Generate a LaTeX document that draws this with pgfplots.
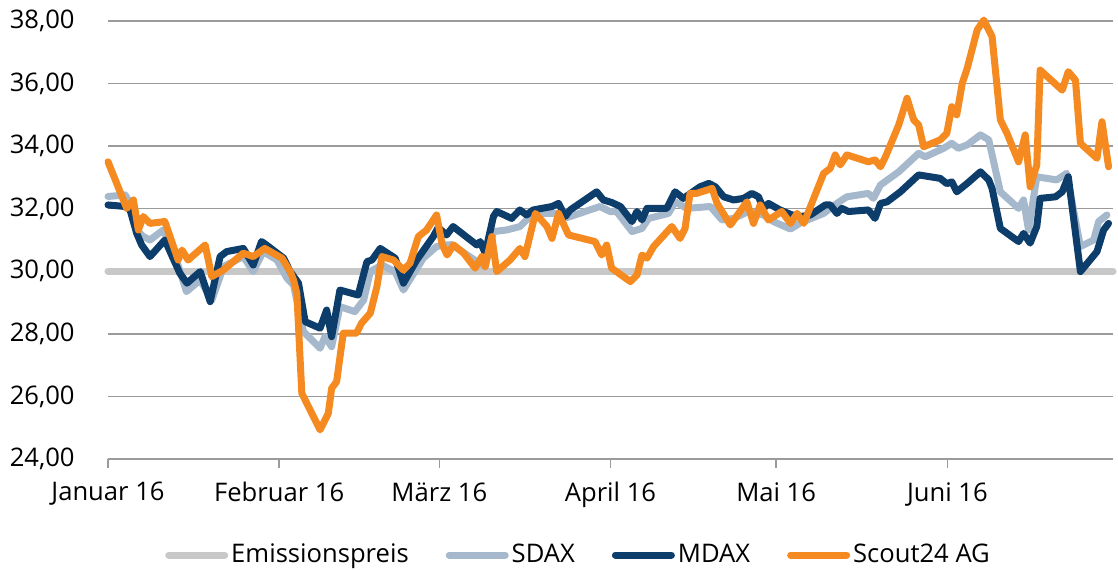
\documentclass[border=0pt]{standalone}
\usepackage{pgfplots}
\pgfplotsset{compat=1.18}
\usepackage{fontspec}
\setmainfont{Open Sans}
\definecolor{emis}{RGB}{200,200,200}
\definecolor{sdax}{RGB}{166,184,203}
\definecolor{mdax}{RGB}{13,61,107}
\definecolor{scout}{RGB}{245,138,32}
\definecolor{gridc}{RGB}{155,155,155}
\begin{document}
\fontsize{12.8}{15}\selectfont
\begin{tikzpicture}
\begin{axis}[
  name=ax, at={(0,0)}, anchor=south west,
  scale only axis, width=502.5pt, height=219pt,
  xmin=0, xmax=182, ymin=24, ymax=38,
  clip=false,
  axis x line*=bottom, axis y line*=left,
  y axis line style={draw=none},
  x axis line style={gridc, line width=0.75pt},
  ytick={24,26,...,38},
  ymajorgrids, grid style={gridc, line width=0.75pt},
  ytick style={draw=none},
  xtick={0,31,60,91,121,152},
  xticklabels={Januar 16,Februar 16,März 16,April 16,Mai 16,Juni 16},
  xtick align=outside, major tick length=4.5pt,
  xtick style={gridc, line width=0.75pt},
  xticklabel style={anchor=north, inner sep=0pt, yshift=-7pt},
  yticklabel style={anchor=east, inner sep=0pt, xshift=-16.5pt},
  /pgf/number format/.cd, fixed, fixed zerofill, precision=2, use comma, assume math mode=true,
  /pgfplots/.cd,
  every axis plot/.append style={line width=3.5pt, line join=round, line cap=round},
  legend columns=4,
  legend style={at={(rel axis cs:0.4687,-0.2192)}, anchor=center, draw=none, fill=none,
    inner sep=0pt, nodes={inner xsep=1.5pt, inner ysep=0pt},
    /tikz/every even column/.append style={column sep=17pt}},
  legend image code/.code={\draw[#1, line width=3.5pt, line cap=round] (0pt,0pt) -- (28pt,0pt);},
]
\addplot[emis] coordinates {(0,30) (182,30)};
\addlegendentry{Emissionspreis}
\addplot[sdax] coordinates {
(0,32.39) (3.1,32.44) (4.0,32.17) (5.2,31.32) (6.4,31.11) (7.6,31.00) (10.0,31.32) (12.4,30.36)
(14.2,29.35) (16.7,29.72) (18.8,29.08) (20.3,29.83) (20.9,30.15) (24.5,30.47) (26.3,29.99)
(28.1,30.63) (30.6,30.36) (32.4,29.78) (33.6,29.56) (35.4,28.07) (38.4,27.54) (39.3,27.91)
(40.5,27.59) (42.0,28.87) (44.7,28.71) (46.3,29.08) (47.5,29.99) (49.6,30.20) (52.0,29.99)
(53.5,29.40) (55.0,29.83) (57.1,30.42) (59.5,30.79) (61.0,30.84) (62.3,30.85) (66.8,30.31)
(68.3,30.15) (69.8,31.27) (72.2,31.32) (74.6,31.43) (75.8,31.64) (77.6,31.85) (81.3,31.85)
(82.5,31.69) (83.7,31.75) (89.1,32.07) (90.9,31.91) (92.1,31.91) (94.9,31.27) (96.7,31.37)
(97.9,31.69) (101.5,31.85) (102.7,32.22) (104.8,32.01) (109.1,32.07) (111.2,31.64) (113.3,31.69)
(116.0,31.91) (118.7,31.80) (120.5,31.59) (123.6,31.35) (125.4,31.55) (129.6,31.85) (132.0,32.17)
(133.8,32.38) (137.7,32.49) (138.6,32.33) (139.9,32.76) (143.2,33.18) (146.8,33.77) (148.0,33.66)
(151.3,33.93) (152.8,34.09) (154.0,33.93) (155.6,34.04) (158.0,34.36) (159.5,34.20) (161.6,32.54)
(164.9,32.01) (165.8,32.28) (166.7,31.32) (168.2,33.02) (171.8,32.92) (173.6,33.13) (176.1,30.79)
(178.5,31.00) (179.4,31.59) (180.9,31.80)};
\addlegendentry{SDAX}
\addplot[mdax] coordinates {
(0,32.12) (3.1,32.07) (4.0,31.96) (5.2,31.21) (6.1,30.84) (7.6,30.47) (10.3,31.00) (13.0,29.94)
(14.3,29.62) (16.7,29.99) (18.5,29.03) (20.3,30.47) (21.5,30.63) (24.5,30.73) (26.3,30.20)
(27.8,30.95) (28.7,30.84) (31.8,30.42) (33.0,29.99) (34.5,29.62) (35.7,28.39) (38.4,28.18)
(39.6,28.76) (40.5,27.91) (42.0,29.40) (45.3,29.24) (46.9,30.31) (47.8,30.36) (49.3,30.73)
(52.0,30.42) (53.5,29.62) (55.9,30.36) (58.9,31.11) (59.8,31.40) (61.3,31.16) (62.5,31.43)
(66.8,30.84) (67.4,30.95) (68.3,30.58) (69.8,31.75) (70.4,31.91) (73.1,31.69) (74.6,31.96)
(75.8,31.80) (77.0,31.96) (80.4,32.07) (81.6,32.17) (82.8,31.75) (83.7,31.96) (88.5,32.54)
(89.7,32.28) (91.2,32.20) (92.8,32.07) (94.9,31.59) (95.8,31.91) (96.7,31.64) (97.6,32.01)
(101.2,32.01) (102.7,32.54) (104.2,32.33) (107.2,32.70) (108.8,32.81) (110.0,32.70) (111.5,32.38)
(113.3,32.28) (115.1,32.33) (116.6,32.49) (117.8,32.38) (118.7,32.01) (119.6,32.17) (121.7,31.96)
(123.9,31.80) (125.4,31.75) (127.2,31.80) (129.9,32.12) (130.8,32.12) (132.0,31.85) (132.9,32.01)
(134.1,31.91) (137.7,31.96) (138.9,31.69) (139.9,32.17) (141.1,32.22) (143.5,32.54) (146.8,33.08)
(150.7,32.97) (151.9,32.80) (152.8,32.86) (153.7,32.54) (155.6,32.81) (158.0,33.18) (159.5,32.92)
(160.1,32.65) (161.6,31.37) (164.9,30.95) (165.8,31.21) (167.0,30.90) (168.2,31.43) (168.8,32.33)
(171.6,32.38) (172.8,32.54) (173.9,33.02) (176.1,29.99) (179.1,30.63) (180.3,31.32) (181.2,31.53)};
\addlegendentry{MDAX}
\addplot[scout] coordinates {
(0,33.50) (3.4,32.01) (4.6,32.28) (5.5,31.32) (6.4,31.75) (7.6,31.53) (10.3,31.59) (12.7,30.36)
(13.4,30.68) (14.5,30.36) (17.6,30.84) (18.8,29.83) (20.9,30.04) (24.5,30.58) (26.3,30.47)
(28.4,30.73) (31.5,30.42) (33.0,29.99) (33.6,29.72) (34.2,29.30) (35.1,26.10) (38.4,24.93)
(39.9,25.46) (40.5,26.26) (41.4,26.47) (42.6,28.02) (45.0,28.02) (45.9,28.34) (47.5,28.66)
(48.7,29.51) (49.6,30.47) (51.7,30.36) (53.5,30.04) (54.7,30.26) (56.2,31.11) (57.7,31.32)
(59.5,31.80) (60.5,30.87) (61.4,30.52) (62.6,30.84) (64.4,30.58) (66.5,30.10) (67.7,30.47)
(68.3,30.15) (69.5,31.11) (70.4,29.99) (72.8,30.36) (74.6,30.73) (75.5,30.47) (77.4,31.85)
(79.5,31.43) (80.4,31.05) (81.6,31.85) (83.4,31.16) (88.2,30.95) (89.4,30.52) (90.3,30.84)
(91.2,30.10) (94.6,29.67) (95.8,29.88) (96.7,30.52) (97.6,30.42) (98.8,30.79) (102.1,31.43)
(103.6,31.05) (104.5,31.37) (105.4,32.49) (106.6,32.49) (109.4,32.65) (110.3,32.17) (112.7,31.48)
(115.7,32.22) (116.9,31.53) (118.1,32.12) (119.6,31.64) (122.0,31.91) (123.6,31.53) (124.8,31.85)
(126.0,31.53) (129.6,33.13) (130.8,33.29) (131.7,33.72) (132.6,33.40) (133.8,33.72) (137.7,33.50)
(138.9,33.56) (139.9,33.34) (140.8,33.66) (143.2,34.68) (144.7,35.53) (145.9,34.84) (146.8,34.68)
(147.7,33.98) (150.7,34.20) (151.9,34.41) (152.8,35.26) (153.7,35.00) (154.7,36.01) (155.6,36.49)
(157.4,37.71) (158.6,38.03) (160.1,37.50) (161.6,34.84) (162.8,34.41) (164.9,33.50) (166.1,34.36)
(167.0,32.70) (168.2,33.40) (168.8,36.43) (172.8,35.79) (173.9,36.38) (175.2,36.11) (176.1,34.09)
(179.1,33.61) (180.0,34.78) (181.2,33.34)};
\addlegendentry{Scout24 AG}
\end{axis}
\pgfresetboundingbox
\path[use as bounding box] (-54pt,-56pt) rectangle (505pt,229.5pt);
\end{tikzpicture}
\end{document}
